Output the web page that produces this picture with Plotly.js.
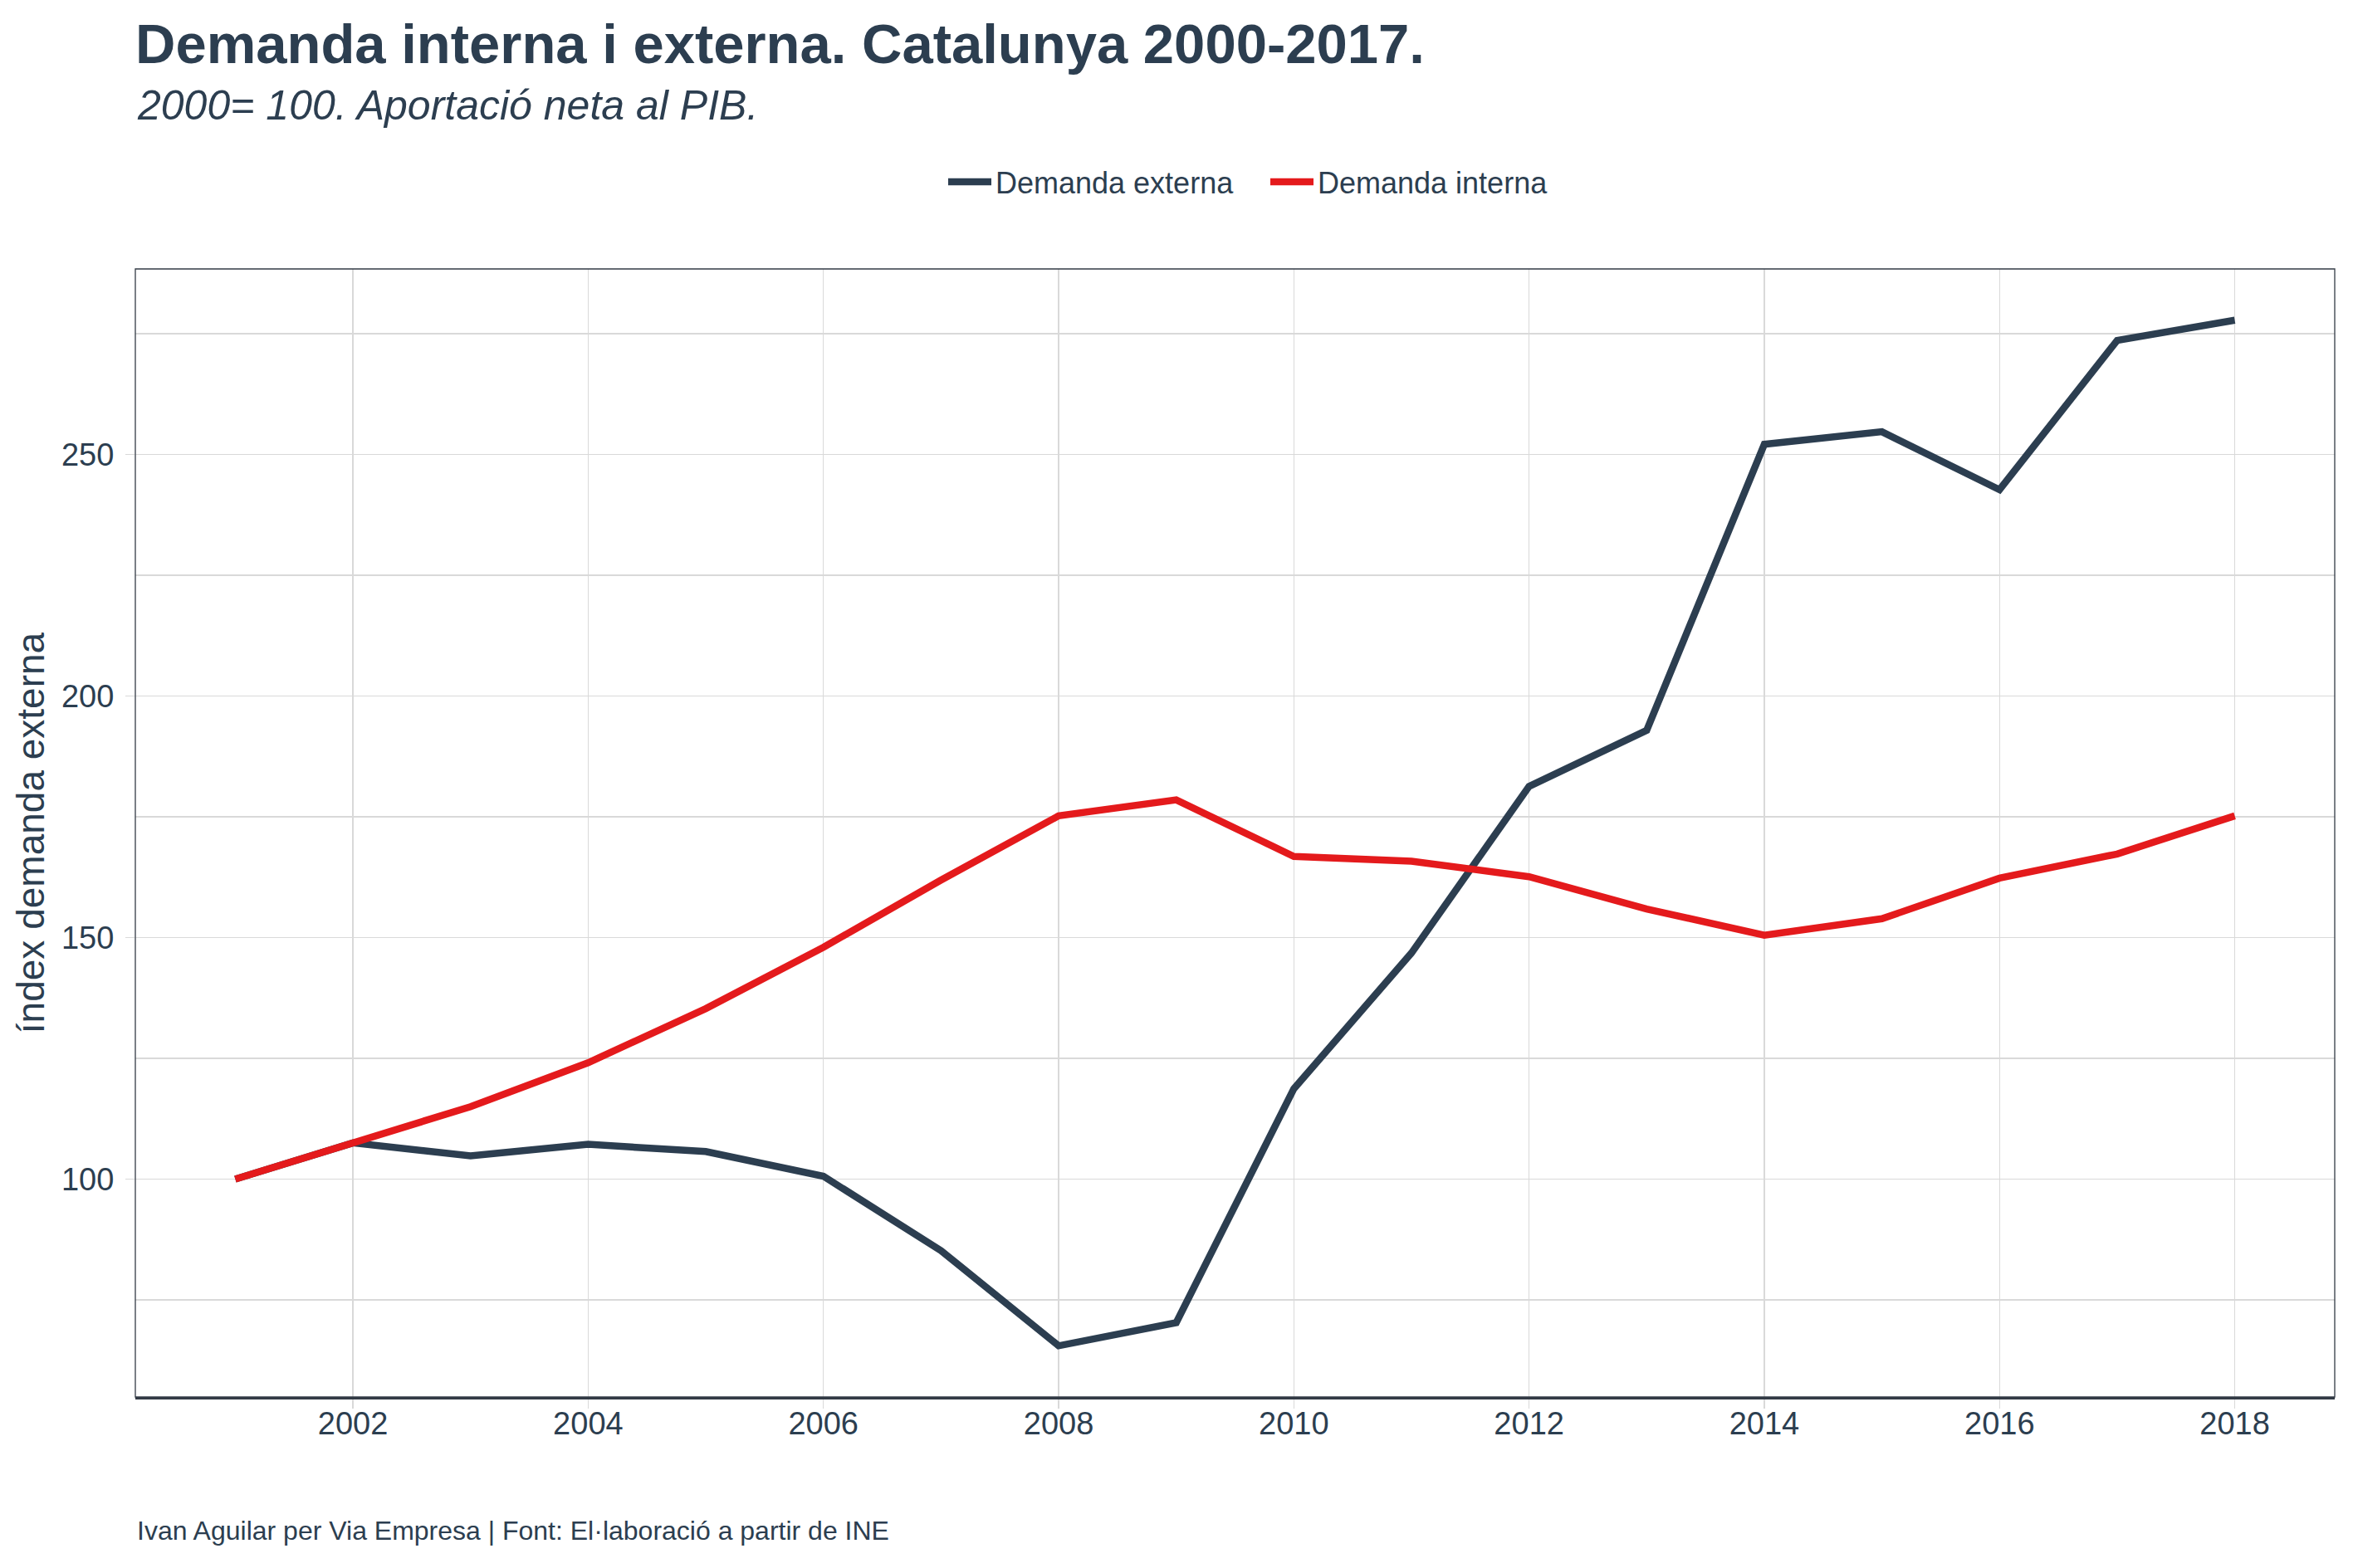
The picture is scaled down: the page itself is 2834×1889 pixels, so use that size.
<!DOCTYPE html>
<html>
<head>
<meta charset="utf-8">
<script src="https://cdn.plot.ly/plotly-3.0.1.min.js"></script>
<style>
  html, body { margin: 0; padding: 0; background: #ffffff; }
  #chart { width: 2834px; height: 1889px; }
</style>
</head>
<body>
<div id="chart"></div>
<script>
// ---- Data ----
const years = [2001, 2002, 2003, 2004, 2005, 2006, 2007, 2008, 2009,
               2010, 2011, 2012, 2013, 2014, 2015, 2016, 2017, 2018];
const demandaExterna = [100, 107.5, 104.8, 107.2, 105.7, 100.6, 85.2, 65.5, 70.3,
                        118.7, 146.8, 181.3, 192.9, 252.1, 254.7, 242.7, 273.6, 277.8];
const demandaInterna = [100, 107.6, 115.0, 124.1, 135.3, 148.0, 161.9, 175.2, 178.5,
                        166.8, 165.8, 162.6, 155.9, 150.5, 153.9, 162.3, 167.3, 175.2];
const seriesNames = ["Demanda externa", "Demanda interna"];
const xTickVals = [2002, 2004, 2006, 2008, 2010, 2012, 2014, 2016, 2018];
const yTickVals = [100, 150, 200, 250];

const titleText = "Demanda interna i externa. Catalunya 2000-2017.";
const subtitleText = "2000= 100. Aportació neta al PIB.";
const yTitleText = "índex demanda externa";
const captionText = "Ivan Aguilar per Via Empresa | Font: El·laboració a partir de INE";

// ---- Styling ----
const FONT = "Liberation Sans, Arial, Helvetica, sans-serif";
const TEXT = "#2c3e50";
const DARK = "#2c3e50";
const RED = "#e41a1c";
const GRID = "#d9d9d9";
const LW = 8.5;

const traces = [
  {
    x: years, y: demandaExterna, name: seriesNames[0],
    type: "scatter", mode: "lines",
    line: { color: DARK, width: LW }
  },
  {
    x: years, y: demandaInterna, name: seriesNames[1],
    type: "scatter", mode: "lines",
    line: { color: RED, width: LW }
  }
];

const W = 2834, H = 1889;
const mL = 163, mR = 22, mT = 324, mB = 206;
const plotH = H - mT - mB;
const plotW = W - mL - mR;
const py = (pix) => (H - mB - pix) / plotH; // pixel row -> paper y
const px = (pix) => (pix - mL) / plotW;      // pixel col -> paper x

const layout = {
  width: W, height: H,
  paper_bgcolor: "#ffffff",
  plot_bgcolor: "#ffffff",
  margin: { l: mL, r: mR, t: mT, b: mB, pad: 0 },
  font: { family: FONT, color: TEXT },
  title: {
    text: "<b>" + titleText + "</b>",
    font: { family: FONT, size: 67, color: TEXT },
    xref: "container", x: mL / W, xanchor: "left",
    yref: "container", y: 1 - 52.5 / H, yanchor: "middle"
  },
  showlegend: true,
  legend: {
    orientation: "h",
    x: px(1137), xanchor: "left",
    y: py(219), yanchor: "middle",
    font: { family: FONT, size: 36, color: TEXT },
    itemwidth: 52,
    entrywidth: 321,
    entrywidthmode: "pixels",
    tracegroupgap: 0,
    bgcolor: "rgba(0,0,0,0)"
  },
  xaxis: {
    range: [2000.15, 2018.85],
    tickmode: "array", tickvals: xTickVals,
    ticktext: xTickVals.map(String),
    showgrid: true, gridcolor: GRID, gridwidth: 1.3,
    zeroline: false,
    showline: true, linecolor: "#333b45", linewidth: 3,
    ticks: "outside", ticklen: 11, tickwidth: 1.3, tickcolor: GRID,
    tickfont: { family: FONT, size: 38, color: TEXT },
    ticklabelstandoff: -15,
    automargin: false
  },
  yaxis: {
    range: [54.9, 288.4],
    tickmode: "array", tickvals: yTickVals,
    ticktext: yTickVals.map(String),
    showgrid: true, gridcolor: GRID, gridwidth: 1.3,
    minor: { tick0: 75, dtick: 50, showgrid: true, gridcolor: GRID, gridwidth: 1.3, ticks: "" },
    zeroline: false,
    showline: false,
    ticks: "outside", ticklen: 11, tickwidth: 1.3, tickcolor: GRID,
    tickfont: { family: FONT, size: 38, color: TEXT },
    ticklabelstandoff: 6,
    title: {
      text: yTitleText,
      font: { family: FONT, size: 46, color: TEXT },
      standoff: 5
    },
    automargin: false
  },
  shapes: [
    {
      type: "rect", xref: "paper", yref: "paper",
      x0: 0, x1: 1, y0: 0, y1: 1,
      line: { color: "#333b45", width: 1.3 },
      fillcolor: "rgba(0,0,0,0)", layer: "above"
    }
  ],
  annotations: [
    {
      text: subtitleText,
      xref: "paper", x: 0, xanchor: "left",
      yref: "paper", y: py(127), yanchor: "middle",
      showarrow: false,
      font: { family: FONT, size: 50, color: TEXT, style: "italic" }
    },
    {
      text: captionText,
      xref: "paper", x: 0, xanchor: "left",
      yref: "paper", y: py(1843.5), yanchor: "middle",
      showarrow: false,
      font: { family: FONT, size: 32, color: TEXT }
    }
  ]
};

Plotly.newPlot("chart", traces, layout, { displayModeBar: false, staticPlot: true });
</script>
</body>
</html>
